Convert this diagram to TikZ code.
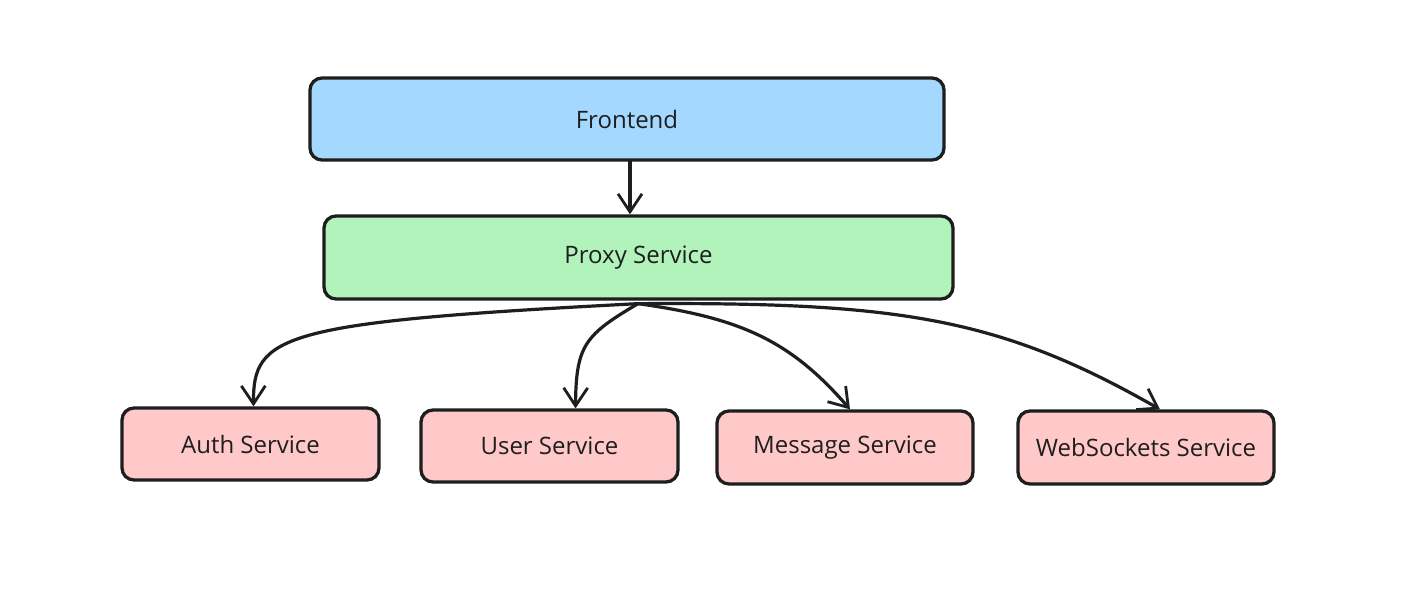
\documentclass[tikz,border=0pt]{standalone}
\usepackage{fontspec}
\setmainfont{Open Sans}
\usetikzlibrary{arrows.meta}
\definecolor{ink}{HTML}{1E1E1E}
\definecolor{blueF}{HTML}{A5D8FF}
\definecolor{greenF}{HTML}{B2F2BB}
\definecolor{redF}{HTML}{FFC9C9}
\begin{document}
\begin{tikzpicture}[x=1pt,y=1pt,
  box/.style={draw=ink, line width=3.3pt, rounded corners=12pt, inner sep=0pt, font=\fontsize{24}{28}\selectfont, text=ink},
  conn/.style={draw=ink, line width=3.2pt, line cap=round, -{Straight Barb[length=18pt,width=24pt,line width=2.8pt]}}]
\useasboundingbox[fill=white] (0,0) rectangle (1406,-606);
\node[box, fill=blueF, minimum width=634pt, minimum height=82pt] (fe) at (627,-119) {Frontend};
\node[box, fill=greenF, minimum width=629pt, minimum height=83pt] (px) at (638.5,-257.5) {Proxy Service};
\node[box, fill=redF, minimum width=257pt, minimum height=72pt] (auth) at (250.5,-444) {Auth Service};
\node[box, fill=redF, minimum width=257pt, minimum height=72pt] (user) at (549.5,-446) {User Service};
\node[box, fill=redF, minimum width=256pt, minimum height=73pt] (msg) at (845,-447.5) {Message Service};
\node[box, fill=redF, minimum width=256pt, minimum height=73pt] (ws) at (1146,-447.5) {WebSockets Service};
\coordinate (pxb) at ([xshift=-0.5pt,yshift=-3pt]px.south);
\draw[conn] ([xshift=3pt]fe.south) -- ([xshift=-8.5pt]px.north);
\draw[conn] (pxb) .. controls (280,-322) and (253,-335) .. ([xshift=3pt]auth.north);
\draw[conn] (pxb) .. controls (585,-335) and (576,-345) .. ([xshift=26pt]user.north);
\draw[conn] (pxb) .. controls (740,-318) and (790,-340) .. ([xshift=5pt]msg.north);
\draw[conn] (pxb) .. controls (900,-302) and (1000,-318) .. ([xshift=14pt]ws.north);
\end{tikzpicture}
\end{document}
